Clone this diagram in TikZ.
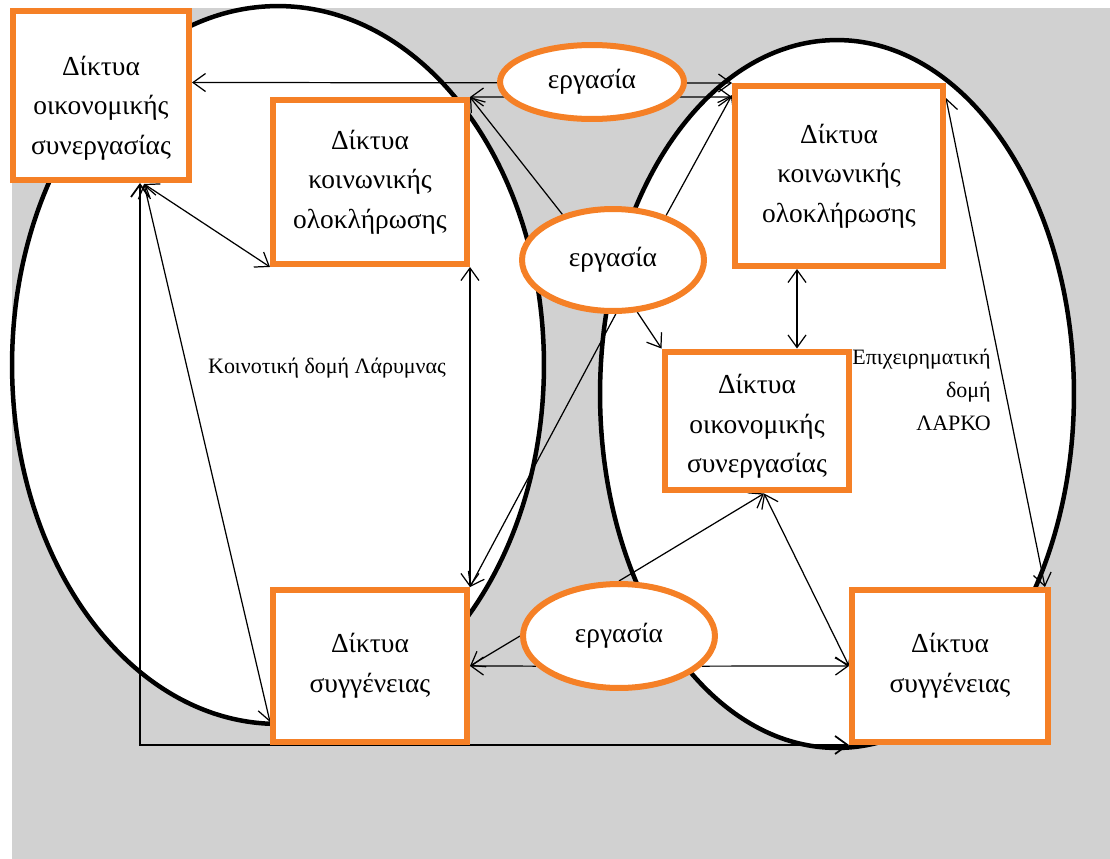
\documentclass[tikz,border=0pt]{standalone}
\usepackage{fontspec}
\setmainfont{Liberation Serif}
\usetikzlibrary{shapes.geometric,arrows.meta,calc}
\definecolor{netorange}{RGB}{245,128,38}
\definecolor{bggray}{RGB}{209,209,209}
\pgfdeclarelayer{bg}
\pgfdeclarelayer{lines}
\pgfsetlayers{bg,lines,main}
\tikzset{
  netbox/.style={draw=netorange,line width=1.2mm,fill=white,inner sep=0pt,align=center,
    font=\fontsize{15.6}{22.5}\selectfont},
  workell/.style={ellipse,draw=netorange,line width=1.2mm,fill=white,inner sep=0pt,
    font=\fontsize{15.6}{18}\selectfont},
  zone/.style={draw=black,line width=0.9mm,fill=white},
  zonelabel/.style={inner sep=0pt,font=\fontsize{12.5}{18.7}\selectfont},
  link/.style={line width=0.7pt,>={Straight Barb[length=2.5mm,width=3.6mm]}}
}
\begin{document}
\begin{tikzpicture}[x=0.02cm,y=-0.02cm]
 \useasboundingbox (0,0) rectangle (1110,859);
 \node[netbox,minimum width=3.52cm,minimum height=3.38cm] (ecoL) at (101,95.5) {\rule{0pt}{25pt}Δίκτυα\\οικονομικής\\συνεργασίας};
 \node[netbox,minimum width=3.88cm,minimum height=3.28cm] (socL) at (370,182) {Δίκτυα\\κοινωνικής\\ολοκλήρωσης};
 \node[netbox,minimum width=4.16cm,minimum height=3.6cm] (socR) at (839,176) {Δίκτυα\\κοινωνικής\\ολοκλήρωσης};
 \node[netbox,minimum width=3.7cm,minimum height=2.78cm] (ecoR) at (757,421) {\rule{0pt}{17pt}Δίκτυα\\οικονομικής\\συνεργασίας};
 \node[netbox,minimum width=3.88cm,minimum height=3.04cm] (kinL) at (370,666) {Δίκτυα\\συγγένειας};
 \node[netbox,minimum width=3.92cm,minimum height=3.04cm] (kinR) at (950,666) {Δίκτυα\\συγγένειας};
 \node[workell,minimum width=3.68cm,minimum height=1.48cm] (workTop) at (592,82) {εργασία};
 \node[workell,minimum width=3.64cm,minimum height=2.04cm] (workMid) at (613,260) {εργασία};
 \node[workell,minimum width=3.84cm,minimum height=2.08cm] (workBot) at (619,636) {εργασία};
 \node[zonelabel] (larymna) at (327,368) {Κοινοτική δομή Λάρυμνας};
 \node[zonelabel,align=right,anchor=east] (larco) at (991,390) {Επιχειρηματική\\δομή\\ΛΑΡΚΟ};
 \coordinate (ecoFoot) at ($(ecoL.south west)+(130,0)$);
 \coordinate (ecoFoot2) at ($(ecoL.south west)+(134,1)$);
 \coordinate (ecoFoot3) at ($(ecoR.south)+(7,0)$);
 \coordinate (midR) at (797,0);
 \begin{pgfonlayer}{bg}
  \fill[bggray] (12,8) rectangle (1110,859);
  \draw[zone] (278,365) ellipse [x radius=5.32cm,y radius=7.18cm];
  \draw[zone] (837,394) ellipse [x radius=4.74cm,y radius=7.08cm];
 \end{pgfonlayer}
 \begin{pgfonlayer}{lines}
  \draw[link,<->] ($(ecoL.east)+(0,-13)$) -- (socR.north west);
  \draw[link,<->] (socL.north east) -- ($(socR.north west)+(0,14)$);
  \draw[link,->] (workMid.138) -- (socL.north east);
  \draw[link,->] (workMid.40) -- ($(socR.north west)+(0,12)$);
  \draw[link,->] (workMid.-65) -- (ecoR.north west);
  \draw[link,->] (workMid.-87) -- (kinL.north east);
  \draw[link,<->] (socL.south east) -- (kinL.north east);
  \draw[link,<->,line width=1pt] (ecoFoot) |- (kinR.south west);
  \draw[link,<->] (ecoFoot2) -- ($(kinL.south west)+(0,-23)$);
  \draw[link,<->] (ecoFoot2) -- (socL.south west);
  \draw[link,<->] (midR |- socR.south) -- (midR |- ecoR.north);
  \draw[link,<->] ($(socR.north east)+(0,15)$) -- ($(kinR.north east)+(-6,0)$);
  \draw[link,->] (workBot.north) -- (ecoFoot3);
  \draw[link,<->] (ecoFoot3) -- (kinR.west);
  \draw[link,->] (workBot.west) -- (kinL.east);
  \draw[link,->] (workBot.200) -- (kinL.east);
  \draw[link,->] (workBot.-20) -- (kinR.west);
 \end{pgfonlayer}
\end{tikzpicture}
\end{document}
